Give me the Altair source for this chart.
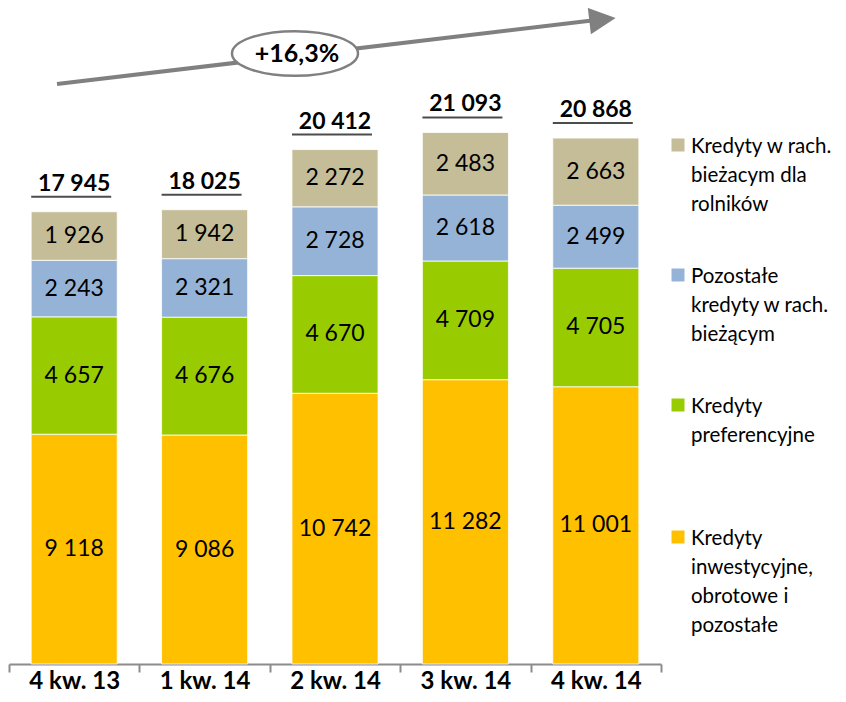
import altair as alt
import pandas as pd

# ---- data ----
categories = ["4 kw. 13", "1 kw. 14", "2 kw. 14", "3 kw. 14", "4 kw. 14"]
series_names = [
    "Kredyty inwestycyjne, obrotowe i pozostałe",
    "Kredyty preferencyjne",
    "Pozostałe kredyty w rach. bieżącym",
    "Kredyty w rach. bieżacym dla rolników",
]
legend_texts = [
    "Kredyty\ninwestycyjne,\nobrotowe i\npozostałe",
    "Kredyty\npreferencyjne",
    "Pozostałe\nkredyty w rach.\nbieżącym",
    "Kredyty w rach.\nbieżacym dla\nrolników",
]
inwestycyjne = [9118, 9086, 10742, 11282, 11001]
preferencyjne = [4657, 4676, 4670, 4709, 4705]
pozostale = [2243, 2321, 2728, 2618, 2499]
rolnikow = [1926, 1942, 2272, 2483, 2663]
totals = [17945, 18025, 20412, 21093, 20868]
growth_label = "+16,3%"
colors = ["#FFC000", "#99CC00", "#95B3D7", "#C4BD97"]

series_values = [inwestycyjne, preferencyjne, pozostale, rolnikow]
rows = []
for si, (name, vals) in enumerate(zip(series_names, series_values)):
    for c, v in zip(categories, vals):
        rows.append({"cat": c, "series": name, "value": v, "order": si})
df = pd.DataFrame(rows)
df_tot = pd.DataFrame({"cat": categories, "total": totals})
one = pd.DataFrame({"a": [0]})

FONT = "Lato"
W, H = 652, 654

x_enc = alt.X(
    "cat:N",
    sort=categories,
    scale=alt.Scale(paddingInner=0, paddingOuter=0),
    axis=alt.Axis(
        title=None, labelFont=FONT, labelFontSize=24, labelFontWeight="bold",
        labelColor="black", domainColor="#8C8C8C", domainWidth=2,
        tickColor="#8C8C8C", tickWidth=2, tickSize=8, tickBand="extent",
        labelPadding=16, labelBaseline="alphabetic", labelAngle=0,
    ),
)
y_scale = alt.Scale(domain=[0, 25950])

base = alt.Chart(df).transform_stack(
    stack="value", groupby=["cat"], as_=["y0", "y1"],
    sort=[alt.SortField("order", order="ascending")],
).transform_calculate(
    mid="(datum.y0 + datum.y1) / 2",
    label="replace(format(datum.value, ','), ',', ' ')",
)

bars = base.mark_bar(width=alt.RelativeBandSize(0.66), stroke="white", strokeWidth=0.8).encode(
    x=x_enc,
    y=alt.Y("y0:Q", scale=y_scale, axis=None),
    y2="y1:Q",
    color=alt.Color("series:N", scale=alt.Scale(domain=series_names, range=colors), legend=None),
)

seg_text = base.mark_text(font=FONT, fontSize=23, color="black", baseline="middle").encode(
    x=alt.X("cat:N", sort=categories),
    y=alt.Y("mid:Q", scale=y_scale),
    text="label:N",
)

tot_base = alt.Chart(df_tot).transform_calculate(
    label="replace(format(datum.total, ','), ',', ' ')"
)
tot_text = tot_base.mark_text(
    font=FONT, fontSize=23, fontWeight="bold", color="black", baseline="middle", dy=-28
).encode(
    x=alt.X("cat:N", sort=categories),
    y=alt.Y("total:Q", scale=y_scale),
    text="label:N",
)
tot_line = tot_base.mark_tick(
    orient="horizontal", size=80, thickness=2, color="black", yOffset=-15, xOffset=-3
).encode(
    x=alt.X("cat:N", sort=categories),
    y=alt.Y("total:Q", scale=y_scale),
)

# ---- growth arrow annotation ----
GRAY = "#808080"
arrow_line = alt.Chart(one).mark_rule(color=GRAY, strokeWidth=4).encode(
    x=alt.value(48), y=alt.value(74), x2=alt.value(583), y2=alt.value(10.5)
)
arrow_head = alt.Chart(one).mark_point(
    shape="M -1 -1 L 1 0 L -1 1 Z", filled=True, color=GRAY, opacity=1,
    size=700, angle=353.3,
).encode(x=alt.value(593.5), y=alt.value(9.5))
ellipse = alt.Chart(one).mark_point(
    shape="M -1 0 A 1 0.355 0 1 1 1 0 A 1 0.355 0 1 1 -1 0 Z",
    filled=True, fill="white", stroke=GRAY, strokeWidth=2.5, opacity=1, size=126 * 126,
).encode(x=alt.value(286), y=alt.value(43.5))
ellipse_text = alt.Chart(one).mark_text(
    font=FONT, fontSize=25, fontWeight="bold", color="black", baseline="middle", align="center"
).encode(x=alt.value(288), y=alt.value(43.5), text=alt.value(growth_label))

# ---- custom legend ----
legend_layers = []
legend_centers = [527, 395, 265, 135]
for txt, col, cy in zip(legend_texts, colors, legend_centers):
    legend_layers.append(
        alt.Chart(one).mark_square(size=169, color=col, opacity=1, filled=True).encode(
            x=alt.value(669), y=alt.value(cy)
        )
    )
    legend_layers.append(
        alt.Chart(one).mark_text(
            font=FONT, fontSize=20.5, color="black", align="left", baseline="alphabetic",
            lineBreak="\n", lineHeight=29,
        ).encode(x=alt.value(682), y=alt.value(cy + 7.5), text=alt.value(txt))
    )

chart = alt.layer(
    bars, seg_text, tot_line, tot_text, arrow_line, ellipse, ellipse_text, arrow_head,
    *legend_layers,
).properties(
    width=W, height=H,
    autosize=alt.AutoSizeParams(type="none"),
    padding={"left": 1, "top": 2, "right": 177, "bottom": 30},
    background="white",
).configure_view(stroke=None)

chart.save("out.html", embed_options={"renderer": "svg", "actions": False})
